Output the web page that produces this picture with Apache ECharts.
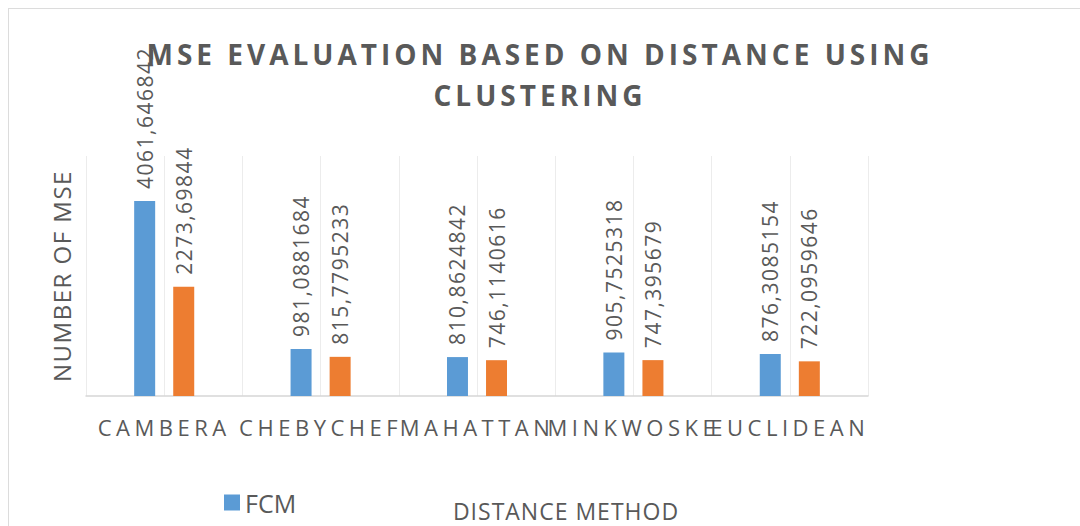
<!DOCTYPE html>
<html>
<head>
<meta charset="utf-8">
<title>MSE evaluation based on distance using clustering</title>
<script src="https://cdn.jsdelivr.net/npm/echarts@6/dist/echarts.min.js"></script>
<style>
  html, body { margin: 0; padding: 0; background: #fff; overflow: hidden; }
  #frame { position: absolute; left: 8px; top: 8px; width: 1300px; height: 800px; border: 1px solid #dcdcdc; }
  #chart { position: absolute; left: 0; top: 0; width: 1080px; height: 526px; }
  /* zrender has no letterSpacing, so space out the caps on the svg text instead */
  #chart text[style*="28px"] { letter-spacing: 4px; }
  #chart text[style*="22px"] { letter-spacing: 4.5px; }
  #chart text[style*="21px"] { letter-spacing: 1.5px; }
  #chart text[style*="24px"] { letter-spacing: 1.5px; }
  #chart text[style*="23px"] { letter-spacing: 1px; }
</style>
</head>
<body>
<div id="frame"></div>
<div id="chart"></div>
<script>
const categories = ['CAMBERA', 'CHEBYCHEF', 'MAHATTAN', 'MINKWOSKE', 'EUCLIDEAN'];
const fcmValues = [4061.646842, 981.0881684, 810.8624842, 905.7525318, 876.3085154];
const otherValues = [2273.69844, 815.7795233, 746.1140616, 747.395679, 722.0959646];

// excel draws a gridline at every category edge and centre -> half-slots
const halfSlots = categories.flatMap(() => ['', '']);

const textColor = '#595959';
const font = 'Open Sans';

const chart = echarts.init(document.getElementById('chart'), null, { renderer: 'svg' });

const barLabel = {
  show: true,
  position: 'top',
  rotate: 90,
  align: 'left',
  verticalAlign: 'middle',
  distance: 12,
  color: textColor,
  fontFamily: font,
  fontSize: 21,
  formatter: p => String(p.value).replace('.', ',')
};

const option = {
  backgroundColor: 'transparent',
  animation: false,
  title: {
    text: 'MSE EVALUATION BASED ON DISTANCE USING\nCLUSTERING',
    left: 'center',
    top: 28,
    textStyle: {
      color: textColor,
      fontFamily: font,
      fontSize: 28,
      fontWeight: 'bold',
      lineHeight: 41
    }
  },
  legend: {
    data: ['FCM'],
    left: 224,
    top: 490,
    padding: 0,
    icon: 'rect',
    itemWidth: 16,
    itemHeight: 16,
    textStyle: { color: textColor, fontFamily: font, fontSize: 25 }
  },
  grid: { left: 86, right: 212, top: 156, bottom: 130 },
  xAxis: [
    {
      type: 'category',
      data: categories,
      name: 'DISTANCE METHOD',
      nameLocation: 'middle',
      nameGap: 103,
      nameTextStyle: { color: textColor, fontFamily: font, fontSize: 23, padding: [0, 0, 0, 178] },
      axisLine: { lineStyle: { color: '#d6d6d6', width: 1.5 } },
      axisTick: { show: false },
      splitLine: { show: false },
      axisLabel: { interval: 0, margin: 20, color: textColor, fontFamily: font, fontSize: 22 }
    },
    {
      type: 'category',
      data: halfSlots,
      position: 'bottom',
      axisLine: { show: false },
      axisTick: { show: false },
      axisLabel: { show: false },
      splitLine: { show: true, interval: 0, lineStyle: { color: '#ececec', width: 1 } }
    }
  ],
  yAxis: {
    type: 'value',
    min: 0,
    max: 5000,
    name: 'NUMBER OF MSE',
    nameLocation: 'middle',
    nameGap: 13,
    nameTextStyle: { color: textColor, fontFamily: font, fontSize: 24 },
    axisLine: { show: false },
    axisTick: { show: false },
    axisLabel: { show: false },
    splitLine: { show: false }
  },
  series: [
    {
      name: 'FCM',
      type: 'bar',
      data: fcmValues,
      barWidth: 21,
      barGap: '86%',
      itemStyle: { color: '#5b9bd5' },
      label: barLabel
    },
    {
      name: 'Method 2',
      type: 'bar',
      data: otherValues,
      barWidth: 21,
      barGap: '86%',
      itemStyle: { color: '#ed7d31' },
      label: barLabel
    }
  ]
};

chart.setOption(option);
</script>
</body>
</html>
